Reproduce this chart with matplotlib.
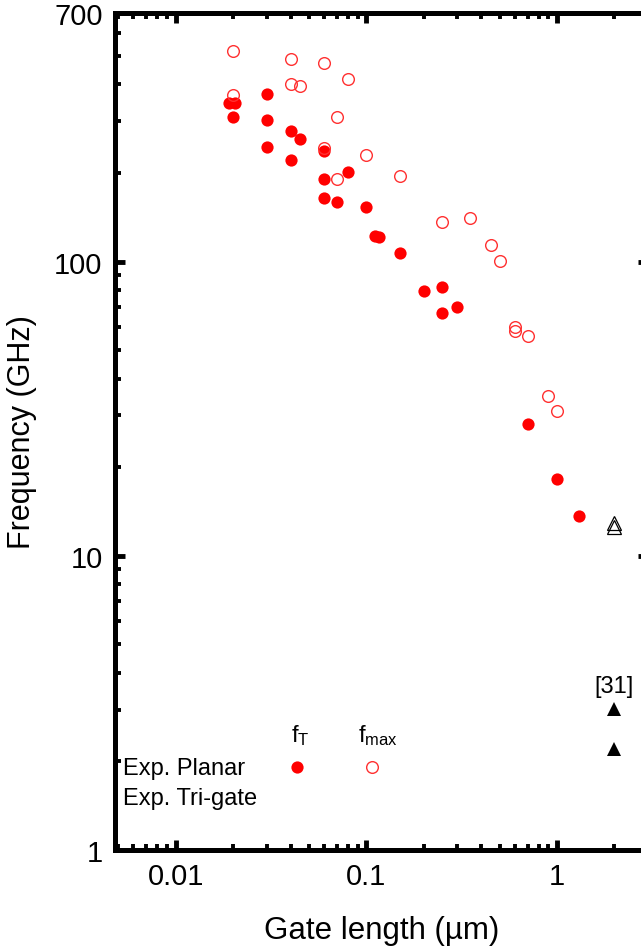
import matplotlib
matplotlib.use("Agg")
import matplotlib.pyplot as plt

plt.rcParams['font.family'] = ['Liberation Sans', 'DejaVu Sans']
plt.rcParams['mathtext.default'] = 'regular'

# Experimental planar devices: fT (filled) and fmax (open)
ft_x = [0.019, 0.0205, 0.02, 0.03, 0.03, 0.03, 0.04, 0.045, 0.04, 0.06, 0.06, 0.06,
        0.07, 0.08, 0.1, 0.111, 0.117, 0.15, 0.2, 0.25, 0.25, 0.3, 0.7, 1.0, 1.3]
ft_y = [345, 345, 311, 372, 302, 246, 279, 262, 221, 237, 191, 164,
        159, 201, 153, 122.5, 121.3, 107.3, 79.4, 82, 67, 70.3, 28, 18.3, 13.7]

fmax_x = [0.02, 0.04, 0.06, 0.08, 0.04, 0.045, 0.02, 0.07, 0.06, 0.1, 0.15, 0.07,
          0.25, 0.35, 0.45, 0.5, 0.6, 0.6, 0.7, 0.9, 1.0]
fmax_y = [521, 490, 472, 416, 403, 396, 368, 311, 244, 231, 196, 191,
          136.5, 140.8, 114.3, 100.3, 60, 58, 56, 34.9, 31]

# Experimental tri-gate devices
tri_fmax_x = [2.0, 2.0]
tri_fmax_y = [12.95, 12.5]
tri_ft_x = [2.0, 2.0]
tri_ft_y = [3.02, 2.21]

x_ticks = [0.01, 0.1, 1]
x_ticklabels = ['0.01', '0.1', '1']
y_ticks = [1, 10, 100, 700]
y_ticklabels = ['1', '10', '100', '700']

fig = plt.figure(figsize=(6.41, 9.53), dpi=100)
ax = fig.add_axes([115/641, 1-851/953, (648-115)/641, (851-14)/953])

ax.plot(ft_x, ft_y, 'o', color='red', ms=8.8, mec='red', mew=0, zorder=3)
ax.plot(fmax_x, fmax_y, 'o', mfc='none', mec='#ff3030', ms=8.4, mew=1.0, zorder=4)
ax.plot(tri_fmax_x, tri_fmax_y, '^', mfc='none', mec='black', ms=10, mew=0.9, zorder=4)
ax.plot(tri_ft_x, tri_ft_y, '^', color='black', ms=10.5, mew=0, zorder=4)

ax.text(2.0, 3.6, '[31]', ha='center', va='center', fontsize=17)

ax.set_xscale('log')
ax.set_yscale('log')
ax.set_xlim(0.0048, 3.0)
ax.set_ylim(1, 700)
ax.set_xticks(x_ticks)
ax.set_xticklabels(x_ticklabels)
ax.set_yticks(y_ticks)
ax.set_yticklabels(y_ticklabels)

for s in ax.spines.values():
    s.set_linewidth(3.6)
ax.tick_params(which='both', direction='in', top=True, right=True)
ax.tick_params(which='major', length=7.5, width=3.5, labelsize=21, pad=9)
ax.tick_params(which='minor', length=4, width=2.8)

ax.set_xlabel('Gate length (µm)', fontsize=22.5, labelpad=18)
ax.set_ylabel('Frequency (GHz)', fontsize=22, labelpad=12)

# Legend drawn in axes coordinates
W = 648 - 115
H = 851 - 14
def ax_xy(px, py):
    return ((px - 115) / W, (851 - py) / H)

tr = ax.transAxes
ax.text(*ax_xy(123, 769), 'Exp. Planar', transform=tr, ha='left', va='center', fontsize=17)
ax.text(*ax_xy(123, 799), 'Exp. Tri-gate', transform=tr, ha='left', va='center', fontsize=17)
ax.text(*ax_xy(300, 736), 'f$_{T}$', transform=tr, ha='center', va='center', fontsize=17)
ax.text(*ax_xy(378, 736), 'f$_{max}$', transform=tr, ha='center', va='center', fontsize=17)
ax.plot(*ax_xy(297, 768), 'o', color='red', ms=8.8, mew=0, transform=tr, clip_on=False)
ax.plot(*ax_xy(372, 768), 'o', mfc='none', mec='#ff3030', ms=8.4, mew=1.0, transform=tr, clip_on=False)

fig.savefig('out.png', dpi=100)
